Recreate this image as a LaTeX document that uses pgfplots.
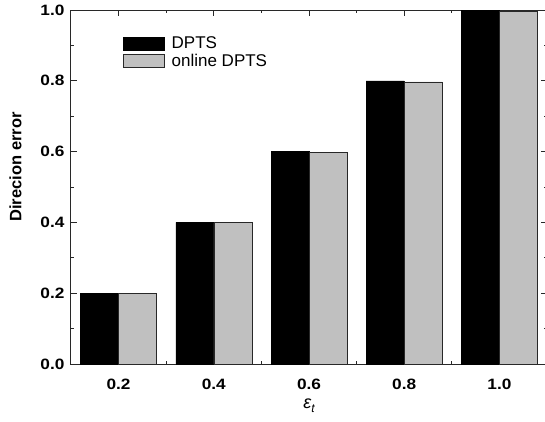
\documentclass[border=0pt]{standalone}
\usepackage{pgfplots}
\pgfplotsset{compat=1.18}
\usepackage{fontspec}
\setmainfont{Liberation Sans}
\newfontfamily\tickfont[FakeStretch=1.15]{Liberation Sans}
\definecolor{barg}{RGB}{192,192,192}
\definecolor{axc}{RGB}{40,40,40}
\begin{document}
\begin{tikzpicture}
\begin{axis}[
  name=ax,
  scale only axis,
  width=476pt, height=354pt,
  xmin=0.1, xmax=1.1, ymin=0, ymax=1.0,
  ybar=0pt, bar width=38pt,
  xtick={0.2,0.4,0.6,0.8,1.0},
  xticklabels={0.2,0.4,0.6,0.8,1.0},
  minor xtick={0.3,0.5,0.7,0.9},
  ytick={0,0.2,0.4,0.6,0.8,1.0},
  yticklabels={0.0,0.2,0.4,0.6,0.8,1.0},
  minor ytick={0.1,0.3,0.5,0.7,0.9},
  tick align=inside,
  major tick length=6pt, minor tick length=3pt,
  tick style={axc, line width=0.8pt},
  axis line style={axc, line width=1pt},
  ticklabel style={font=\tickfont\fontsize{15}{17}\selectfont\bfseries},
  xticklabel style={yshift=-11pt},
  yticklabel style={xshift=-3pt},
  xlabel={\itshape ε\raisebox{-4pt}{\fontsize{12}{12}\selectfont t}},
  xlabel style={font=\fontsize{18}{20}\selectfont, yshift=-3pt},
  ylabel={Direcion error},
  ylabel style={font=\fontsize{16.5}{18}\selectfont\bfseries, yshift=12pt, xshift=20pt},
  legend style={at={(0.109,0.930)}, anchor=north west, draw=none, fill=none,
    inner sep=0pt, font=\fontsize{17}{19}\selectfont, row sep=0pt,
    /tikz/every odd column/.append style={column sep=5pt}},
  legend cell align=left,
  legend image code/.code={\draw[#1] (0pt,-6.5pt) rectangle (41pt,6.5pt);},
]
\addplot[fill=black, draw=black] coordinates {(0.2,0.2) (0.4,0.4) (0.6,0.6) (0.8,0.8) (1.0,1.0)};
\addplot[fill=barg, draw=axc, line width=0.6pt] coordinates {(0.2,0.199) (0.4,0.399) (0.6,0.598) (0.8,0.797) (1.0,0.995)};
\legend{DPTS, online DPTS}
\end{axis}
\pgfresetboundingbox
\path (ax.south west) ++(-71pt,-57pt) rectangle ++(545pt,421pt);
\end{tikzpicture}
\end{document}
